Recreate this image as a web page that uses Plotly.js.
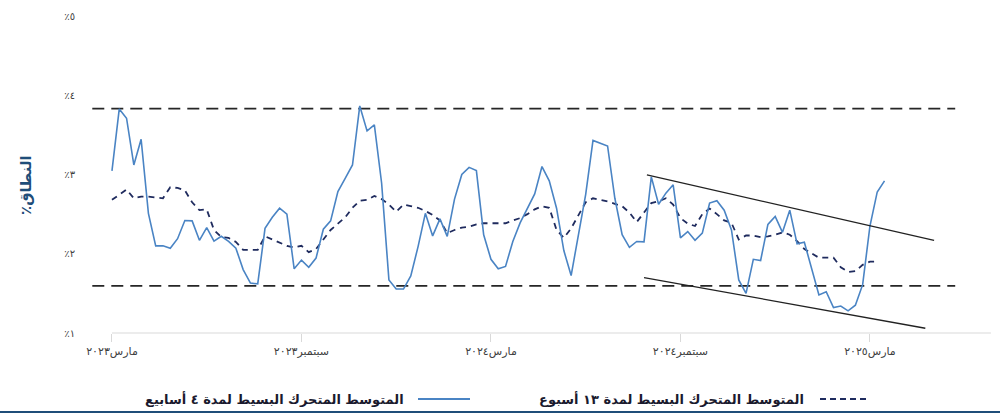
<!DOCTYPE html>
<html><head><meta charset="utf-8">
<script src="https://cdn.plot.ly/plotly-3.0.1.min.js"></script>
<style>html,body{margin:0;padding:0;background:#fff}</style>
</head><body><div id="chart" style="width:1000px;height:414px"></div>
<script>
// Weekly series, index 0 = March 2023
const ma4 = [3.045,3.827,3.71,3.12,3.445,2.51,2.10,2.10,2.07,2.19,
  2.42,2.415,2.17,2.33,2.16,2.22,2.155,2.07,1.80,1.63,
  1.62,2.32,2.46,2.575,2.50,1.81,1.92,1.83,1.945,2.31,
  2.415,2.785,2.95,3.12,3.865,3.55,3.625,2.89,1.67,1.555,
  1.555,1.72,2.09,2.51,2.225,2.44,2.22,2.69,3.00,3.09,
  3.05,2.24,1.93,1.81,1.84,2.155,2.39,2.575,2.755,3.10,
  2.92,2.575,2.04,1.725,2.24,2.75,3.43,3.395,3.36,2.70,
  2.24,2.08,2.155,2.15,2.97,2.625,2.765,2.87,2.20,2.28,
  2.17,2.26,2.64,2.67,2.55,2.30,1.67,1.50,1.93,1.915,
  2.37,2.47,2.27,2.55,2.125,2.145,1.825,1.48,1.52,1.32,
  1.34,1.28,1.35,1.61,2.35,2.78,2.92];
const ma13 = [2.68,2.75,2.81,2.70,2.72,2.72,2.71,2.70,2.84,2.83,
  2.80,2.65,2.55,2.56,2.30,2.21,2.20,2.15,2.05,2.05,
  2.05,2.22,2.18,2.13,2.10,2.08,2.10,2.02,2.06,2.18,
  2.30,2.38,2.46,2.58,2.67,2.68,2.73,2.69,2.62,2.53,
  2.62,2.60,2.58,2.54,2.49,2.42,2.26,2.30,2.33,2.34,
  2.37,2.385,2.385,2.385,2.385,2.42,2.45,2.50,2.56,2.60,
  2.58,2.30,2.20,2.32,2.48,2.65,2.70,2.68,2.66,2.63,
  2.60,2.52,2.40,2.52,2.64,2.66,2.70,2.62,2.45,2.38,
  2.35,2.50,2.57,2.50,2.42,2.39,2.18,2.23,2.23,2.21,
  2.22,2.24,2.27,2.24,2.16,2.06,2.00,1.95,1.95,1.95,
  1.83,1.77,1.78,1.86,1.90,1.90];
const tickIdx = [0,26,52,78,104];
const tickLabels = ['مارس٢٠٢٣','سبتمبر٢٠٢٣','مارس٢٠٢٤','سبتمبر٢٠٢٤','مارس٢٠٢٥'];
const yTicks = [1,2,3,4,5];
const yTickLabels = ['٪١','٪٢','٪٣','٪٤','٪٥'];
const bandLevels = [3.83, 1.595];
const bandX = [-2.7, 115.7];
const upperTrendX = [73.4, 112.8], upperTrendY = [2.995, 2.17];
const lowerTrendX = [73.0, 111.6], lowerTrendY = [1.70, 1.06];
const legend4 = 'المتوسط المتحرك البسيط لمدة ٤ أسابيع';
const legend13 = 'المتوسط المتحرك البسيط لمدة ١٣ أسبوع';
const yTitle = '٪النطاق';

const idx = a => a.map((_, i) => i);
const traces = [];
bandLevels.forEach(v => traces.push({x: bandX, y: [v, v], mode: 'lines', hoverinfo: 'skip', showlegend: false,
  line: {color: '#262626', width: 1.8, dash: '12px,7px'}}));
traces.push({x: idx(ma13), y: ma13, mode: 'lines', name: legend13, showlegend: false,
  line: {color: '#1f2b5e', width: 1.8, dash: '6px,5px'}});
traces.push({x: idx(ma4), y: ma4, mode: 'lines', name: legend4, showlegend: false,
  line: {color: '#4a84c4', width: 1.6}});
traces.push({x: upperTrendX, y: upperTrendY, mode: 'lines', showlegend: false, line: {color: '#222', width: 1.3}});
traces.push({x: lowerTrendX, y: lowerTrendY, mode: 'lines', showlegend: false, line: {color: '#222', width: 1.3}});

const L = 92, R = 9, T = 16, B = 81, W = 1000, H = 414;
const pw = W - L - R, ph = H - T - B;
const px = p => (p - L) / pw;
const py = p => (H - B - p) / ph;

const layout = {
  width: W, height: H,
  margin: {l: L, r: R, t: T, b: B},
  paper_bgcolor: '#fff', plot_bgcolor: '#fff',
  font: {family: 'DejaVu Sans, sans-serif', color: '#404040'},
  showlegend: false,
  xaxis: {range: [-2.74, 120.61], showgrid: false, zeroline: false, showline: false,
    tickmode: 'array', tickvals: tickIdx, ticktext: tickLabels,
    ticks: 'outside', ticklen: 8, tickcolor: '#d9d9d9', tickwidth: 1,
    tickfont: {size: 11, color: '#404040'}},
  yaxis: {range: [1, 5], showgrid: false, zeroline: false, showline: false,
    tickmode: 'array', tickvals: yTicks, ticktext: yTickLabels,
    ticks: 'outside', ticklen: 14, tickcolor: 'rgba(0,0,0,0)',
    tickfont: {size: 10, color: '#404040'}},
  shapes: [
    {type: 'line', xref: 'x', yref: 'paper', x0: 0, x1: 120.6, y0: 0, y1: 0, line: {color: '#d9d9d9', width: 1}},
    {type: 'line', xref: 'paper', yref: 'paper', x0: px(418), x1: px(470), y0: py(399), y1: py(399), line: {color: '#4a84c4', width: 2}},
    {type: 'line', xref: 'paper', yref: 'paper', x0: px(820), x1: px(868), y0: py(399), y1: py(399), line: {color: '#1f2b5e', width: 2, dash: '6px,4px'}},
    {type: 'line', xref: 'paper', yref: 'paper', x0: px(0), x1: px(1000), y0: py(412), y1: py(412), line: {color: '#1f4e79', width: 2}}
  ],
  annotations: [
    {xref: 'paper', yref: 'paper', x: px(26), y: py(185), text: yTitle, textangle: -90, showarrow: false,
      xanchor: 'center', yanchor: 'middle', font: {size: 15, color: '#1f4e79', family: 'DejaVu Sans, sans-serif', weight: 'bold'}},
    {xref: 'paper', yref: 'paper', x: px(406), y: py(399), text: '<b>' + legend4 + '</b>', showarrow: false,
      xanchor: 'right', yanchor: 'middle', font: {size: 13, color: '#1a1a2e'}},
    {xref: 'paper', yref: 'paper', x: px(806), y: py(399), text: '<b>' + legend13 + '</b>', showarrow: false,
      xanchor: 'right', yanchor: 'middle', font: {size: 13, color: '#1a1a2e'}}
  ]
};
Plotly.newPlot('chart', traces, layout, {displayModeBar: false, staticPlot: true});
</script></body></html>
